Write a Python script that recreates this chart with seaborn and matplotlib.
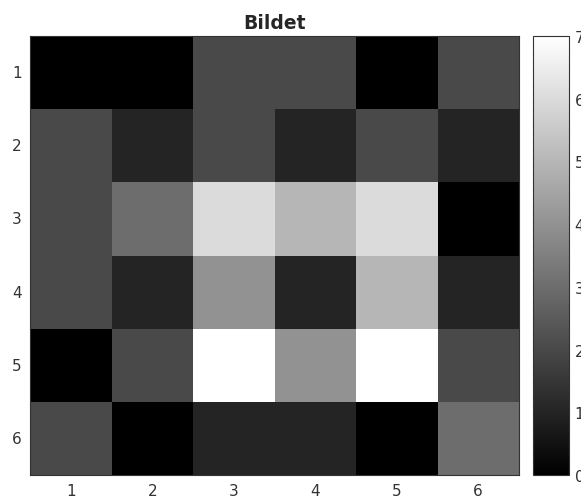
import numpy as np
import pandas as pd
import matplotlib
matplotlib.use('Agg')
import matplotlib.pyplot as plt
import seaborn as sns

# pixel values of the image (rows 1..6, cols 1..6)
row1 = [0, 0, 2, 2, 0, 2]
row2 = [2, 1, 2, 1, 2, 1]
row3 = [2, 3, 6, 5, 6, 0]
row4 = [2, 1, 4, 1, 5, 1]
row5 = [0, 2, 7, 4, 7, 2]
row6 = [2, 0, 1, 1, 0, 3]
labels = [1, 2, 3, 4, 5, 6]
cbar_ticks = [0, 1, 2, 3, 4, 5, 6, 7]

df = pd.DataFrame([row1, row2, row3, row4, row5, row6], index=labels, columns=labels)

sns.set_style('white')
fig = plt.figure(figsize=(5.81, 5.02), dpi=100)
ax = fig.add_axes([30 / 581, 26 / 502, 489 / 581, 439 / 502])
cax = fig.add_axes([533 / 581, 26 / 502, 36 / 581, 439 / 502])

sns.heatmap(df, ax=ax, cbar_ax=cax, cmap='gray', vmin=0, vmax=7,
            cbar_kws={'ticks': cbar_ticks})

ax.set_title('Bildet', fontsize=13.5, fontweight='bold', pad=6)
ax.set_xticklabels(labels, rotation=0)
ax.set_yticklabels(labels, rotation=0)
ax.tick_params(direction='in', length=3, width=0.6, color='#444444',
               labelsize=11, labelcolor='#333333', pad=6,
               bottom=True, left=True, top=True, right=True)
for s in ax.spines.values():
    s.set_visible(True)
    s.set_color('#333333')
    s.set_linewidth(0.8)

cax.tick_params(direction='in', length=3, width=0.6, color='#444444',
                labelsize=11, labelcolor='#333333', pad=4, right=True)
cbar = ax.collections[0].colorbar
cbar.outline.set_visible(True)
cbar.outline.set_edgecolor('#333333')
cbar.outline.set_linewidth(0.8)

fig.savefig('out.png', dpi=100)
plt.close()
